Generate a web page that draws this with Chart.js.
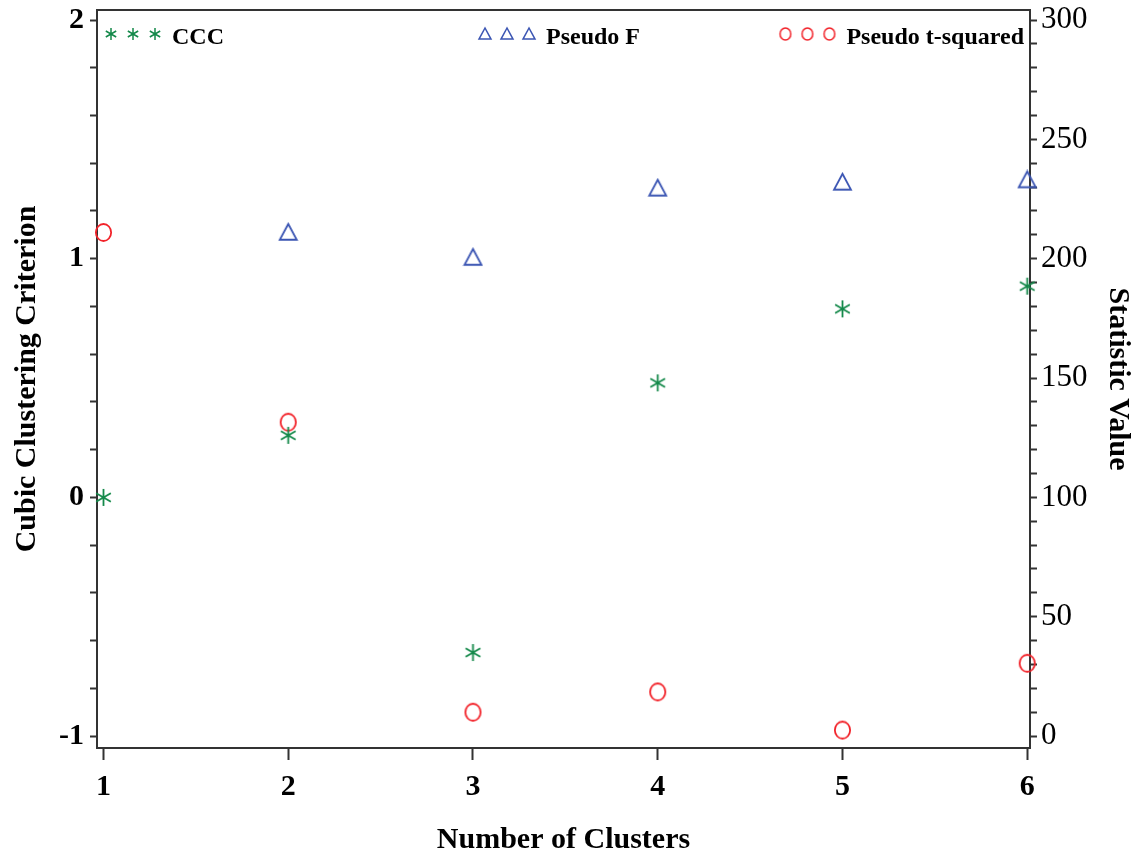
<!DOCTYPE html>
<html>
<head>
<meta charset="utf-8">
<script src="https://cdn.jsdelivr.net/npm/chart.js@4.4.1/dist/chart.umd.min.js"></script>
<style>
  html, body { margin: 0; padding: 0; background: #fff; }
  #wrap { width: 1134px; height: 856px; }
</style>
</head>
<body>
<div id="wrap"><canvas id="grafico"></canvas></div>
<script>
// ===========================
// Dados
// ===========================
const clusters = [1, 2, 3, 4, 5, 6];
// cubic clustering criterion (eixo esquerdo)
const ccc = [0, 0.26, -0.65, 0.48, 0.79, 0.885];
// pseudo F e pseudo t-squared (eixo direito); sem pseudo F para 1 cluster
const pseudoF = [null, 211, 200.5, 229.5, 232, 233];
const pseudoT2 = [211, 131.5, 10, 18.5, 2.5, 30.5];

const xTicks = [1, 2, 3, 4, 5, 6];
const cccLabels = [-1, 0, 1, 2];
const statLabels = [0, 50, 100, 150, 200, 250, 300];

const VERDE = "#14894a";
const AZUL = "#3b55b3";
const VERMELHO = "#f2232a";
const EIXO = "#333333";
const FONTE = "'Liberation Serif', 'Times New Roman', serif";

// marcas menores entre os rótulos
const cccTicks = [];
for (let k = -5; k <= 10; k++) cccTicks.push(k / 5);
const statTicks = [];
for (let v = 0; v <= 300; v += 10) statTicks.push(v);

// ===========================
// Marcadores desenhados à mão
// ===========================
function marcador(tipo, tam, cor) {
  const c = document.createElement("canvas");
  c.width = tam + 4;
  c.height = tam + 4;
  const g = c.getContext("2d");
  const cx = c.width / 2, cy = c.height / 2, r = tam / 2;
  g.strokeStyle = cor;
  g.lineWidth = tam > 14 ? 1.8 : 1.5;
  g.beginPath();
  if (tipo === "estrela") {
    for (const ang of [90, 30, 150]) {
      const a = ang * Math.PI / 180;
      g.moveTo(cx - Math.cos(a) * r, cy - Math.sin(a) * r);
      g.lineTo(cx + Math.cos(a) * r, cy + Math.sin(a) * r);
    }
  } else if (tipo === "triangulo") {
    g.moveTo(cx, cy - r);
    g.lineTo(cx - r, cy + r * 0.85);
    g.lineTo(cx + r, cy + r * 0.85);
    g.closePath();
  } else {
    g.ellipse(cx, cy, r * 0.9, r, 0, 0, Math.PI * 2);
  }
  g.stroke();
  return c;
}

const series = [
  { label: "CCC", tipo: "estrela", cor: VERDE, eixo: "y", valores: ccc },
  { label: "Pseudo F", tipo: "triangulo", cor: AZUL, eixo: "y2", valores: pseudoF },
  { label: "Pseudo t-squared", tipo: "circulo", cor: VERMELHO, eixo: "y2", valores: pseudoT2 }
];

// ===========================
// Moldura e legenda no topo
// ===========================
const moldura = {
  id: "moldura",
  beforeDatasetsDraw(chart) {
    const { ctx, chartArea: a } = chart;
    ctx.save();
    ctx.strokeStyle = EIXO;
    ctx.lineWidth = 2;
    ctx.strokeRect(a.left, a.top, a.right - a.left, a.bottom - a.top);
    ctx.restore();
  }
};

const legendaTopo = {
  id: "legendaTopo",
  afterDatasetsDraw(chart) {
    const { ctx, chartArea: a } = chart;
    ctx.save();
    ctx.font = "bold 24px " + FONTE;
    ctx.textBaseline = "middle";
    ctx.fillStyle = "#000";
    series.forEach((s, i) => {
      const larg = 67 + ctx.measureText(s.label).width;
      let x0;
      if (i === 0) x0 = a.left + 8;
      else if (i === 1) x0 = (a.left + a.right) / 2 - 4 - larg / 2;
      else x0 = a.right - 6 - larg;
      const m = marcador(s.tipo, 12, s.cor);
      for (const dx of [6, 28, 50]) {
        ctx.drawImage(m, x0 + dx - m.width / 2, a.top + 24 - m.height / 2);
      }
      ctx.fillText(s.label, x0 + 67, a.top + 28);
    });
    ctx.restore();
  }
};

// ===========================
// Gráfico
// ===========================
const datasets = series.map(s => ({
  label: s.label,
  data: clusters
    .map((c, i) => ({ x: c, y: s.valores[i] }))
    .filter(p => p.y !== null),
  yAxisID: s.eixo,
  pointStyle: marcador(s.tipo, 17, s.cor),
  pointRadius: 9,
  showLine: false,
  clip: false
}));

function fixarTicks(valores) {
  return scale => { scale.ticks = valores.map(v => ({ value: v })); };
}

// largura/altura fixa de cada eixo, sem folga extra para os rótulos das pontas
function tamanhoFixo(prop, valor) {
  return s => {
    s[prop] = valor;
    s.paddingTop = 0;
    s.paddingBottom = 0;
    s.paddingLeft = 0;
    s.paddingRight = 0;
  };
}

const ehRotulo = (v, lista) => lista.some(r => Math.abs(r - v) < 1e-9);

new Chart(document.getElementById("grafico"), {
  type: "scatter",
  data: { datasets },
  options: {
    responsive: true,
    maintainAspectRatio: false,
    animation: false,
    layout: { padding: { top: 10, left: 0, right: 0, bottom: 0 } },
    plugins: {
      legend: { display: false },
      tooltip: { enabled: false }
    },
    scales: {
      x: {
        type: "linear",
        min: 0.965,
        max: 6.015,
        afterBuildTicks: fixarTicks(xTicks),
        afterFit: tamanhoFixo("height", 108),
        grid: { drawOnChartArea: false, tickLength: 12, tickWidth: 2, tickColor: EIXO },
        border: { color: EIXO, width: 2 },
        ticks: {
          color: "#000",
          padding: 9,
          font: { family: FONTE, size: 30, weight: "bold" }
        },
        title: {
          display: true,
          text: "Number of Clusters",
          color: "#000",
          padding: { bottom: 1 },
          font: { family: FONTE, size: 30, weight: "bold", lineHeight: 1 }
        }
      },
      y: {
        position: "left",
        min: -1.05,
        max: 2.042,
        afterBuildTicks: fixarTicks(cccTicks),
        afterFit: tamanhoFixo("width", 97),
        grid: { drawOnChartArea: false, tickLength: 7, tickWidth: 2, tickColor: EIXO },
        border: { color: EIXO, width: 2 },
        ticks: {
          color: "#000",
          padding: 6,
          autoSkip: false,
          font: { family: FONTE, size: 30, weight: "bold" },
          callback: v => ehRotulo(v, cccLabels) ? String(Math.round(v)) : ""
        },
        title: {
          display: true,
          text: "Cubic Clustering Criterion",
          color: "#000",
          padding: { top: 12 },
          font: { family: FONTE, size: 30, weight: "bold", lineHeight: 1 }
        }
      },
      y2: {
        position: "right",
        min: -5,
        max: 304.2,
        afterBuildTicks: fixarTicks(statTicks),
        afterFit: tamanhoFixo("width", 104),
        grid: { drawOnChartArea: false, tickLength: 7, tickWidth: 2, tickColor: EIXO },
        border: { color: EIXO, width: 2 },
        ticks: {
          color: "#000",
          padding: 4,
          autoSkip: false,
          font: { family: FONTE, size: 31 },
          callback: v => ehRotulo(v, statLabels) ? String(v) : ""
        },
        title: {
          display: true,
          text: "Statistic Value",
          color: "#000",
          padding: { top: 1 },
          font: { family: FONTE, size: 30, weight: "bold", lineHeight: 1 }
        }
      }
    }
  },
  plugins: [moldura, legendaTopo]
});
</script>
</body>
</html>
